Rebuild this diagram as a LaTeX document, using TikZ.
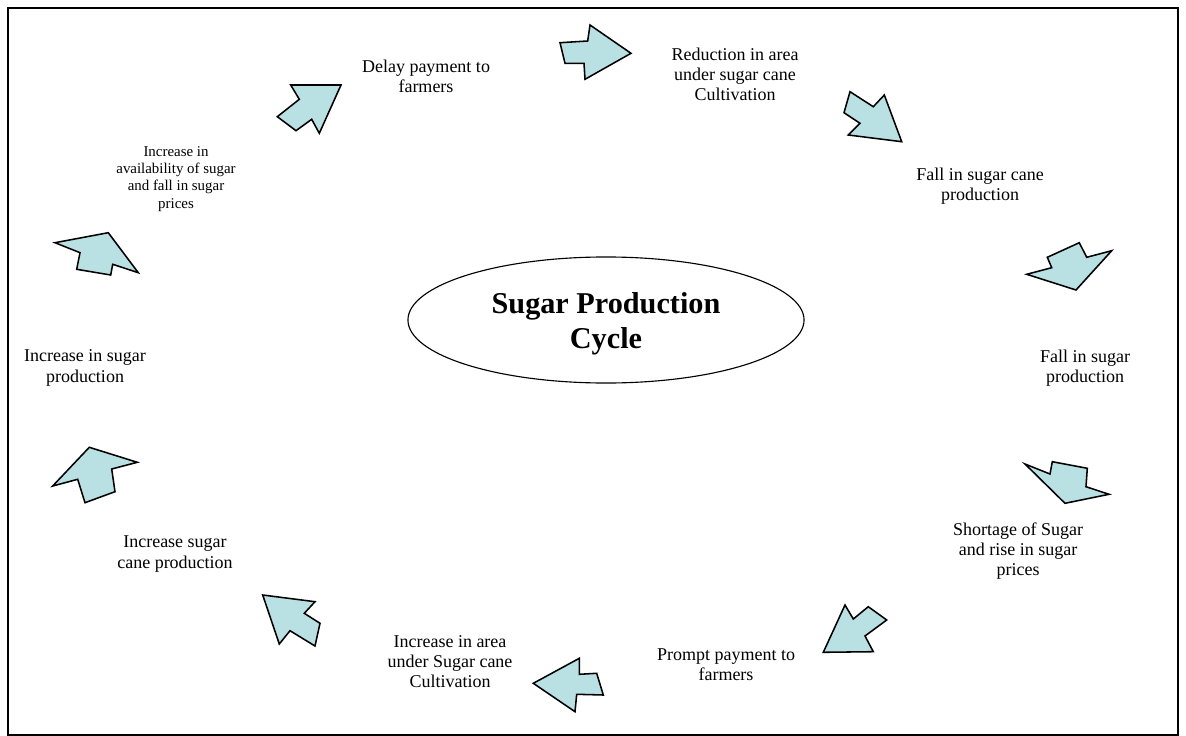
\documentclass[tikz,border=0pt]{standalone}
\usepackage{fontspec}
\setmainfont{Liberation Serif}
\usetikzlibrary{shapes.geometric}
\definecolor{cyc}{HTML}{B9E0E3}

\begin{document}
\begin{tikzpicture}[x=0.025cm,y=-0.025cm,
    lbl/.style={align=center,font=\fontsize{12.8}{14.3}\selectfont,inner sep=0pt},
    small/.style={align=center,font=\fontsize{10.6}{12.2}\selectfont,inner sep=0pt},
    blockarr/.style={draw,fill=cyc,line width=1.1pt,line join=miter},
]
\useasboundingbox (0,0) rectangle (1186,736);
\draw[line width=0.8pt] (8,8) rectangle (1178,735);

% Centre
\node[ellipse,draw,line width=0.8pt,minimum width=9.9cm,minimum height=3.15cm,inner sep=0pt] (cycle) at (606,320) {};
\node[align=center,inner sep=0pt,font=\fontsize{21.5}{25}\selectfont\bfseries] (title) at (606,324)
      {Sugar Production\\Cycle};

% Stages
\node[lbl] (delay) at (426,76) {Delay payment to\\farmers};
\node[lbl] (reduce) at (735,74) {Reduction in area\\under sugar cane\\Cultivation};
\node[lbl] (fallcane) at (980,186) {Fall in sugar cane\\production};
\node[lbl] (fallsugar) at (1085,368) {Fall in sugar\\production};
\node[lbl] (shortage) at (1018,551) {Shortage of Sugar\\and rise in sugar\\prices};
\node[lbl] (prompt) at (726,665) {Prompt payment to\\farmers};
\node[lbl] (incarea) at (450,662) {Increase in area\\under Sugar cane\\Cultivation};
\node[lbl] (inccane) at (175,554) {Increase sugar\\cane production};
\node[lbl] (incsugar) at (85,368) {Increase in sugar\\production};
\node[small] (avail) at (176,179) {Increase in\\availability of sugar\\and fall in sugar\\prices};

% Arrows
\draw[blockarr] (290.7,85) -- (341,85) -- (319.3,133.3) -- (311.7,119.3) -- (296,130.7) -- (277.3,116.7) -- (299.3,99.3) -- cycle;
\draw[blockarr] (560,42.7) -- (587.7,41) -- (590,25) -- (631,53.3) -- (585,79.3) -- (584,63.3) -- (565,63.3) -- cycle;
\draw[blockarr] (850,91.7) -- (873.3,106.7) -- (884.3,95) -- (901.7,141.7) -- (848.3,135) -- (860,123.3) -- (844,112.7) -- cycle;
\draw[blockarr] (1047.3,257.3) -- (1079.3,242.7) -- (1086.7,257.3) -- (1111.7,250.7) -- (1076,290) -- (1026.7,274.3) -- (1051.7,267.7) -- cycle;
\draw[blockarr] (1025,464) -- (1050,474) -- (1052.3,461.7) -- (1087.3,468.3) -- (1086,486.7) -- (1109,494.3) -- (1065,503.3) -- cycle;
\draw[blockarr] (845,605) -- (853.3,619) -- (868.3,606.7) -- (886.7,620) -- (865,636) -- (873.3,651.7) -- (823.3,652.3) -- cycle;
\draw[blockarr] (533.3,683.3) -- (579.3,658.3) -- (579.3,674.3) -- (596.7,673.3) -- (603.3,695) -- (576.7,694.3) -- (575,711.7) -- cycle;
\draw[blockarr] (262.7,595) -- (315,601.7) -- (304.3,613.3) -- (320,623.3) -- (315,646) -- (290,630.7) -- (279.3,644) -- cycle;
\draw[blockarr] (52.7,486) -- (89.3,447.3) -- (137.3,462.3) -- (111.7,469) -- (115,491.7) -- (85,502.7) -- (77.7,479.3) -- cycle;
\draw[blockarr] (55,242.7) -- (108.3,232.7) -- (138.3,272.7) -- (112.7,264.3) -- (110.7,275) -- (76.7,269.3) -- (80,252.7) -- cycle;
\end{tikzpicture}
\end{document}
